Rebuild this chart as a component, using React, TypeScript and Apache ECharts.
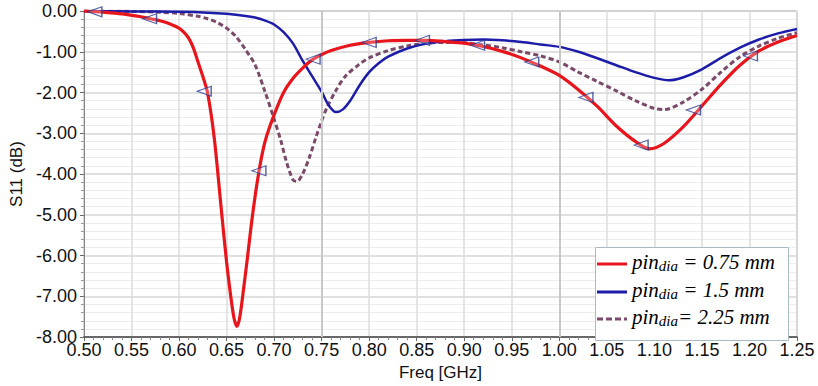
import React, { useEffect, useRef } from "react";
import * as echarts from "echarts";

const xTicks = [0.5, 0.55, 0.6, 0.65, 0.7, 0.75, 0.8, 0.85, 0.9, 0.95, 1.0, 1.05, 1.1, 1.15, 1.2, 1.25];
const yTicks = [0, -1, -2, -3, -4, -5, -6, -7, -8];

const seriesNames = ["pin_dia = 0.75 mm", "pin_dia = 1.5 mm", "pin_dia = 2.25 mm"];
const legendRich = ["{a|pin}{b|dia}{a| = 0.75 mm}", "{a|pin}{b|dia}{a| = 1.5 mm}", "{a|pin}{b|dia}{a|= 2.25 mm}"];
const seriesColors = ["#e8161c", "#1c1ca8", "#7b4a6b"];

const redFreq = [0.5, 0.52, 0.54, 0.56, 0.57, 0.58, 0.59, 0.6, 0.605, 0.61, 0.615, 0.62, 0.625, 0.63, 0.637, 0.644, 0.65, 0.655, 0.658, 0.661, 0.664, 0.668, 0.672, 0.676, 0.68, 0.684, 0.688, 0.692, 0.7, 0.71, 0.72, 0.73, 0.74, 0.75, 0.76, 0.78, 0.8, 0.82, 0.84, 0.86, 0.88, 0.9, 0.92, 0.94, 0.96, 0.98, 1.0, 1.02, 1.04, 1.06, 1.08, 1.095, 1.11, 1.13, 1.15, 1.17, 1.19, 1.21, 1.23, 1.25];
const redS11 = [0, -0.03, -0.07, -0.14, -0.19, -0.24, -0.31, -0.42, -0.52, -0.66, -0.9, -1.25, -1.6, -2.0, -3.1, -4.75, -6.15, -7.1, -7.55, -7.74, -7.5, -6.8, -6.05, -5.25, -4.55, -3.95, -3.45, -3.08, -2.55, -2.0, -1.65, -1.4, -1.2, -1.07, -0.97, -0.84, -0.77, -0.73, -0.72, -0.72, -0.75, -0.79, -0.87, -0.99, -1.15, -1.35, -1.58, -1.93, -2.34, -2.82, -3.2, -3.38, -3.25, -2.85, -2.33, -1.8, -1.33, -0.98, -0.76, -0.6];

const blueFreq = [0.5, 0.55, 0.6, 0.63, 0.65, 0.67, 0.68, 0.69, 0.7, 0.71, 0.72, 0.73, 0.74, 0.75, 0.757, 0.765, 0.772, 0.78, 0.79, 0.8, 0.81, 0.82, 0.84, 0.86, 0.88, 0.9, 0.92, 0.94, 0.96, 0.98, 1.0, 1.02, 1.04, 1.06, 1.08, 1.1, 1.115, 1.13, 1.15, 1.17, 1.19, 1.21, 1.23, 1.25];
const blueS11 = [0, -0.01, -0.02, -0.04, -0.07, -0.12, -0.16, -0.23, -0.33, -0.52, -0.8, -1.22, -1.6, -1.98, -2.3, -2.48, -2.42, -2.2, -1.82, -1.5, -1.28, -1.12, -0.92, -0.8, -0.74, -0.71, -0.7, -0.72, -0.76, -0.82, -0.88, -1.0, -1.16, -1.33, -1.5, -1.64, -1.7, -1.63, -1.43, -1.15, -0.9, -0.7, -0.55, -0.44];

const dashFreq = [0.5, 0.55, 0.58, 0.6, 0.62, 0.63, 0.64, 0.65, 0.66, 0.67, 0.68, 0.69, 0.7, 0.707, 0.713, 0.72, 0.724, 0.73, 0.737, 0.744, 0.75, 0.755, 0.765, 0.775, 0.79, 0.8, 0.82, 0.84, 0.86, 0.88, 0.9, 0.92, 0.94, 0.96, 0.98, 1.0, 1.02, 1.04, 1.06, 1.08, 1.1, 1.11, 1.13, 1.15, 1.17, 1.19, 1.21, 1.23, 1.25];
const dashS11 = [0, -0.01, -0.03, -0.06, -0.13, -0.19, -0.28, -0.42, -0.63, -0.95, -1.32, -1.95, -2.65, -3.17, -3.7, -4.15, -4.18, -4.0, -3.6, -3.1, -2.7, -2.4, -1.95, -1.6, -1.3, -1.15, -0.97, -0.86, -0.79, -0.77, -0.78, -0.83, -0.9, -1.0, -1.1, -1.25, -1.5, -1.73, -1.96, -2.2, -2.39, -2.42, -2.24, -1.92, -1.5, -1.12, -0.86, -0.67, -0.53];

const markerFreq = [0.5115, 0.569, 0.6265, 0.684, 0.741, 0.8, 0.856, 0.914, 0.971, 1.028, 1.086, 1.141, 1.201];
const markerS11 = [-0.02, -0.19, -1.97, -3.92, -1.18, -0.77, -0.72, -0.84, -1.25, -2.12, -3.29, -2.43, -1.1];

const darkGridFreq = [0.75, 1.0];

const zip = (a: number[], b: number[]) => a.map((v, i) => [v, b[i]]);

export default function App() {
  const ref = useRef<HTMLDivElement>(null);
  useEffect(() => {
    if (!ref.current) return;
    const chart = echarts.init(ref.current, null, { renderer: "svg" });
    const tickFont = { fontFamily: "Liberation Sans, Arial, sans-serif", fontSize: 18, color: "#111" };
    const rich = {
      a: { fontFamily: "Liberation Serif, Times New Roman, serif", fontStyle: "italic", fontSize: 21, color: "#111", lineHeight: 22, verticalAlign: "middle" },
      b: { fontFamily: "Liberation Serif, Times New Roman, serif", fontStyle: "italic", fontSize: 15, color: "#111", lineHeight: 10, verticalAlign: "bottom" },
    };
    const rowY = [264, 292, 319];
    const legendEls: any[] = [
      { type: "rect", z: 100, shape: { x: 595.5, y: 247.5, width: 193, height: 93 }, style: { fill: "#ffffff", stroke: "#a9bac4", lineWidth: 1 } },
    ];
    seriesNames.forEach((_, i) => {
      legendEls.push({
        type: "line",
        z: 101,
        shape: { x1: 597, y1: rowY[i], x2: 627, y2: rowY[i] },
        style: { stroke: seriesColors[i], lineWidth: 3, lineDash: i === 2 ? [6, 3] : null },
      });
      legendEls.push({
        type: "text",
        z: 101,
        x: 632,
        y: rowY[i] - 2,
        style: { text: legendRich[i], rich, verticalAlign: "middle", align: "left" },
      });
    });
    chart.setOption({
      animation: false,
      backgroundColor: "#fff",
      grid: { left: 79, right: 21, top: 11, bottom: 42, show: true, borderColor: "#8a8a8a", borderWidth: 1 },
      xAxis: {
        type: "value",
        min: xTicks[0],
        max: xTicks[xTicks.length - 1],
        interval: 0.05,
        name: "Freq [GHz]",
        nameLocation: "middle",
        nameGap: 11,
        nameTextStyle: { fontFamily: "Liberation Sans, Arial, sans-serif", fontSize: 17, color: "#111" },
        axisLine: { show: true, onZero: false, lineStyle: { color: "#444", width: 1.5 } },
        axisTick: { show: true, length: 4, lineStyle: { color: "#666" } },
        minorTick: { show: true, splitNumber: 5, length: 3, lineStyle: { color: "#888" } },
        axisLabel: { ...tickFont, margin: 4, formatter: (v: number) => v.toFixed(2) },
        splitLine: { show: true, lineStyle: { color: "#dcdcdc", width: 1.5 } },
      },
      yAxis: {
        type: "value",
        min: yTicks[yTicks.length - 1],
        max: yTicks[0],
        interval: 1,
        name: "S11 (dB)",
        nameLocation: "middle",
        nameGap: 53,
        nameRotate: 90,
        nameTextStyle: { fontFamily: "Liberation Sans, Arial, sans-serif", fontSize: 17, color: "#111" },
        axisLine: { show: true, onZero: false, lineStyle: { color: "#888", width: 1 } },
        axisTick: { show: true, length: 4, lineStyle: { color: "#666" } },
        minorTick: { show: true, splitNumber: 5, length: 3, lineStyle: { color: "#999" } },
        axisLabel: { ...tickFont, margin: 7, formatter: (v: number) => v.toFixed(2) },
        splitLine: { show: true, lineStyle: { color: "#d6d6d6", width: 1.5 } },
        minorSplitLine: { show: true, lineStyle: { color: "#ececec", width: 1 } },
      },
      graphic: { elements: legendEls },
      series: [
        {
          type: "line",
          name: "darkgrid",
          data: [],
          z: 1,
          silent: true,
          markLine: {
            silent: true,
            symbol: "none",
            label: { show: false },
            lineStyle: { color: "#c8c8c8", width: 2, type: "solid" },
            data: darkGridFreq.map((f) => ({ xAxis: f })),
          },
        },
        {
          type: "line",
          name: seriesNames[2],
          data: zip(dashFreq, dashS11),
          smooth: 0.3,
          showSymbol: false,
          symbol: "none",
          lineStyle: { color: seriesColors[2], width: 3, type: [5, 3] },
          z: 3,
        },
        {
          type: "line",
          name: seriesNames[1],
          data: zip(blueFreq, blueS11),
          smooth: 0.3,
          showSymbol: false,
          symbol: "none",
          lineStyle: { color: seriesColors[1], width: 2.5 },
          z: 4,
        },
        {
          type: "line",
          name: seriesNames[0],
          data: zip(redFreq, redS11),
          smooth: 0.3,
          showSymbol: false,
          symbol: "none",
          lineStyle: { color: seriesColors[0], width: 3.2 },
          z: 5,
        },
        {
          type: "scatter",
          name: "markers",
          data: zip(markerFreq, markerS11),
          symbol: "triangle",
          symbolSize: [10, 14],
          symbolRotate: 90,
          itemStyle: { color: "rgba(255,255,255,0.3)", borderColor: "#2b3a8f", borderWidth: 1.2 },
          z: 6,
          silent: true,
        },
      ],
    });
    return () => chart.dispose();
  }, []);
  return <div ref={ref} style={{ width: 818, height: 386, position: "absolute", left: 0, top: 0 }} />;
}
